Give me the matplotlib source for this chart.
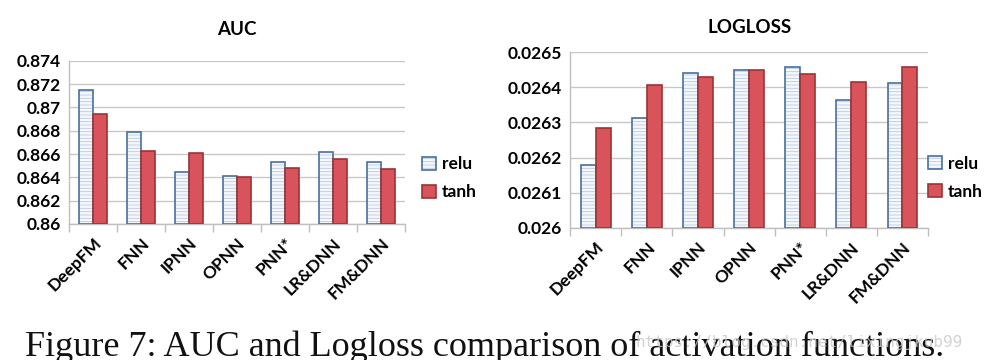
import matplotlib
matplotlib.use("Agg")
import matplotlib.pyplot as plt
import numpy as np

models = ["DeepFM", "FNN", "IPNN", "OPNN", "PNN*", "LR&DNN", "FM&DNN"]
auc_relu = [0.8715, 0.8679, 0.8645, 0.8641, 0.8653, 0.8662, 0.8653]
auc_tanh = [0.8694, 0.8663, 0.8661, 0.8640, 0.8648, 0.8656, 0.8647]
ll_relu = [0.026179, 0.026312, 0.026441, 0.026448, 0.026457, 0.026365, 0.026411]
ll_tanh = [0.026285, 0.026407, 0.026430, 0.026450, 0.026438, 0.026415, 0.026457]
auc_ticks = [0.86, 0.862, 0.864, 0.866, 0.868, 0.87, 0.872, 0.874]
auc_ticklabels = ["0.86", "0.862", "0.864", "0.866", "0.868", "0.87", "0.872", "0.874"]
ll_ticks = [0.026, 0.0261, 0.0262, 0.0263, 0.0264, 0.0265]
ll_ticklabels = ["0.026", "0.0261", "0.0262", "0.0263", "0.0264", "0.0265"]

plt.rcParams['hatch.linewidth'] = 0.6
FONT = "Lato"

fig = plt.figure(figsize=(9.85, 3.6), dpi=100)

relu_face = "#F4F7FB"
relu_edge = "#4A6F9C"
tanh_face = "#D9545A"
tanh_edge = "#9A3437"


def draw(ax, relu, tanh, ylim, ticks, ticklabels, title, title_y, leg_anchor):
    x = np.arange(len(models))
    w = 0.29
    b1 = ax.bar(x - w / 2, np.array(relu) - ylim[0], w, bottom=ylim[0],
                color=relu_face, edgecolor=relu_edge, linewidth=1.2,
                hatch="-----", label="relu", zorder=3)
    for p in b1:
        p._hatch_color = matplotlib.colors.to_rgba("#B9CBE0")
    ax.bar(x + w / 2, np.array(tanh) - ylim[0], w, bottom=ylim[0],
           color=tanh_face, edgecolor=tanh_edge, linewidth=1.2,
           label="tanh", zorder=3)
    ax.set_ylim(*ylim)
    ax.set_xlim(-0.5, len(models) - 0.5)
    ax.set_yticks(ticks)
    ax.set_yticklabels(ticklabels, fontsize=12.5, fontweight="bold", family=FONT)
    ax.tick_params(axis="y", length=0, pad=6)
    ax.set_xticks(x)
    ax.set_xticklabels(models, rotation=45, ha="right", rotation_mode="anchor",
                       fontsize=12.5, fontweight="bold", family=FONT)
    ax.tick_params(axis="x", length=0, pad=8)
    ax.set_xticks(np.arange(-0.5, len(models), 1.0), minor=True)
    ax.tick_params(axis="x", which="minor", length=6, color="#BFBFBF", width=1)
    ax.grid(axis="y", color="#C8C8C8", linewidth=1, zorder=0)
    for s in ["top", "right"]:
        ax.spines[s].set_visible(False)
    for s in ["left", "bottom"]:
        ax.spines[s].set_color("#BFBFBF")
        ax.spines[s].set_linewidth(1)
    ax.set_title(title, fontsize=13.5, fontweight="bold", family=FONT, y=title_y)
    ax.legend(loc="center left", bbox_to_anchor=leg_anchor, frameon=False,
              prop={"family": FONT, "weight": "bold", "size": 12.5},
              handlelength=0.8, handleheight=0.8, handletextpad=0.35,
              labelspacing=0.7, borderaxespad=0, borderpad=0)


ax1 = fig.add_axes([0.070, 0.378, 0.341, 0.453])
draw(ax1, auc_relu, auc_tanh, (0.86, 0.874), auc_ticks, auc_ticklabels,
     "AUC", 1.11, (1.05, 0.28))

ax2 = fig.add_axes([0.579, 0.367, 0.363, 0.488])
draw(ax2, ll_relu, ll_tanh, (0.026, 0.0265), ll_ticks, ll_ticklabels,
     "LOGLOSS", 1.06, (0.0 + 1.0, 0.285))

fig.text(0.025, 0.011, "Figure 7: AUC and Logloss comparison of activation functions.",
         family="Liberation Serif", fontsize=26, color="#111111", ha="left", va="baseline")
fig.text(0.645, 0.035, "https://blog.csdn.net/lixingjkub99", family="DejaVu Sans Mono",
         fontsize=11.5, color="#C8C8C8", alpha=0.8, ha="left", va="baseline")

fig.savefig("out.png", dpi=100)
